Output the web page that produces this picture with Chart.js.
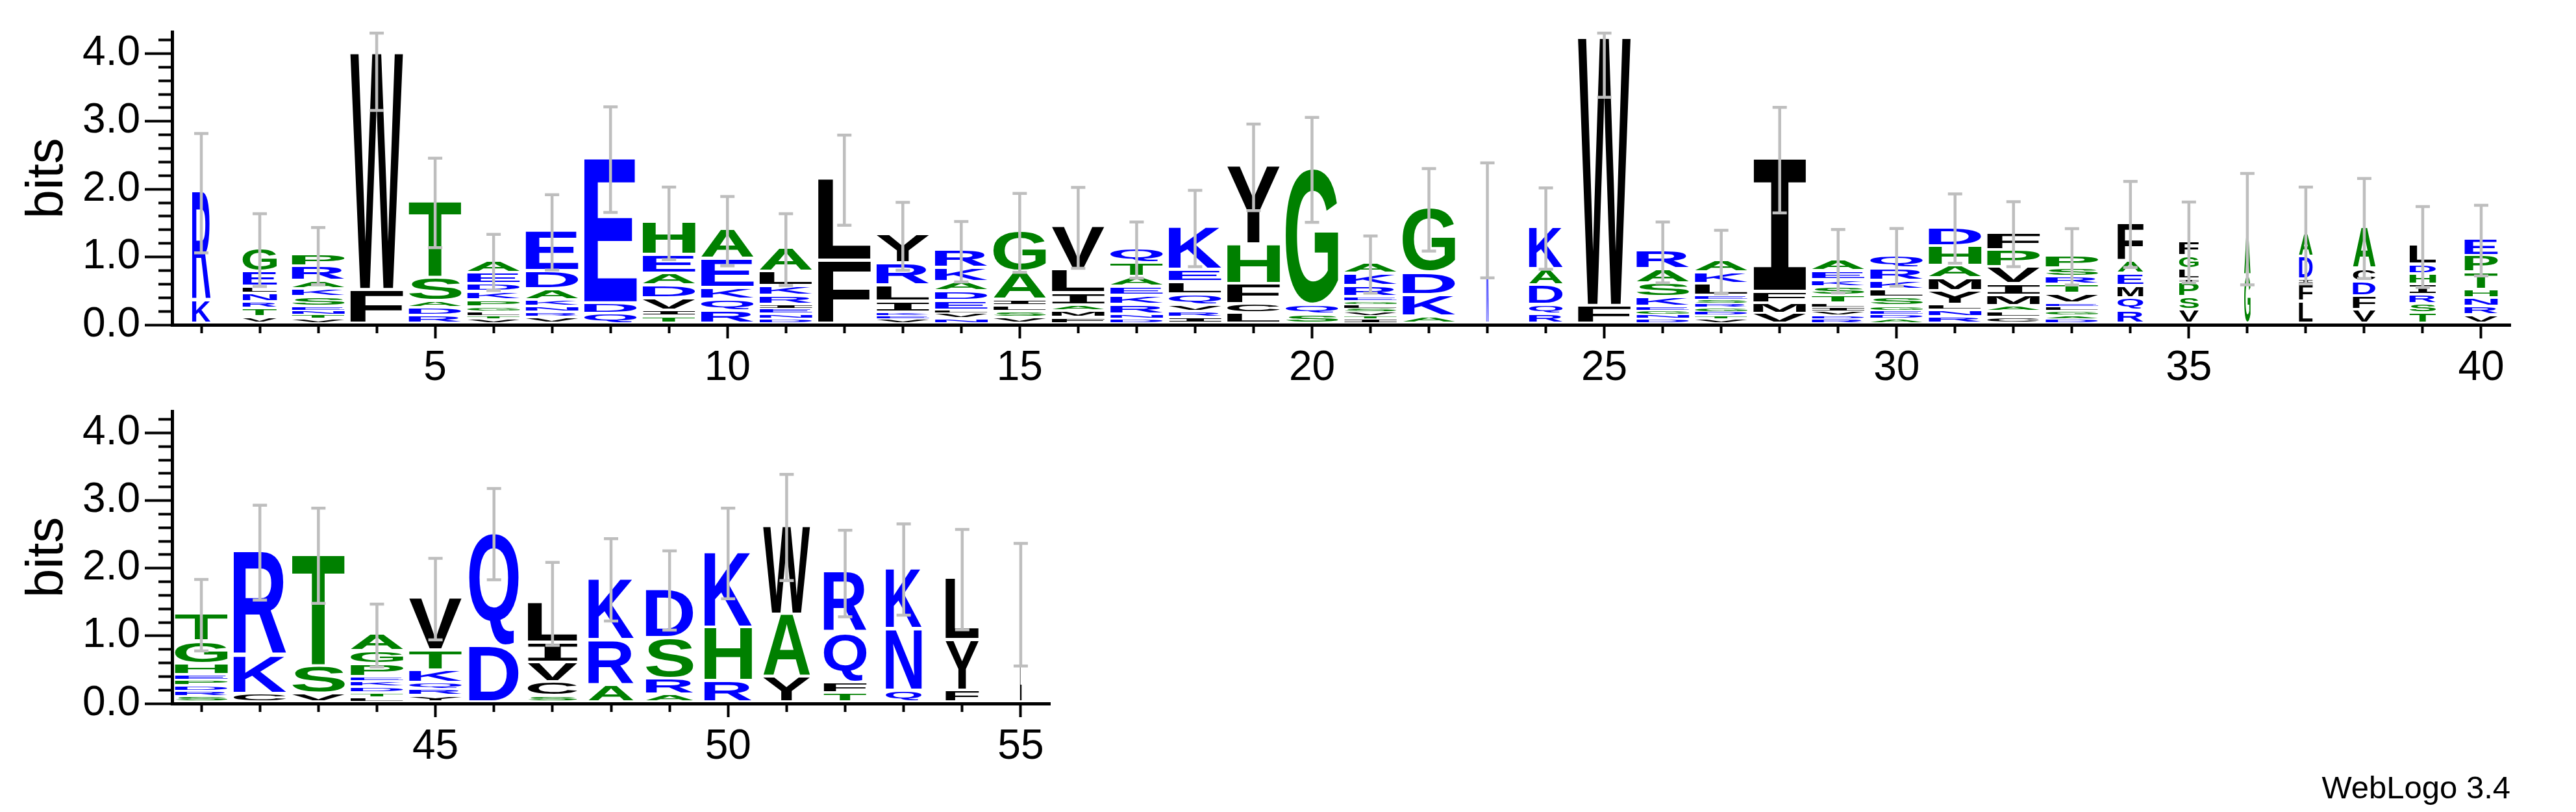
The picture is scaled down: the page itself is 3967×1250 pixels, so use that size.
<!DOCTYPE html>
<html>
<head>
<meta charset="utf-8">
<script src="https://cdn.jsdelivr.net/npm/chart.js@4.4.1/dist/chart.umd.min.js"></script>
<style>
html,body{margin:0;padding:0;background:#fff;}
body{width:3967px;height:1250px;position:relative;overflow:hidden;}
canvas{position:absolute;left:0;}
#c1{top:0;}
#c2{top:583px;}
#credit{position:absolute;right:101px;top:1188px;font-family:"Liberation Sans",Arial,sans-serif;font-size:49px;line-height:49px;color:#000;white-space:nowrap;}
</style>
</head>
<body>
<canvas id="c1" width="3967" height="620"></canvas>
<canvas id="c2" width="3967" height="620"></canvas>
<div id="credit">WebLogo 3.4</div>
<script>
// ---------- DATA (letters listed bottom -> top, heights in bits) ----------
const topPositions = [1,2,3,4,5,6,7,8,9,10,11,12,13,14,15,16,17,18,19,20,21,22,23,24,25,26,27,28,29,30,31,32,33,34,35,36,37,38,39,40];
const topLetters = [
  "KR","VTRNLEG","VTNESKARP","FW","RDAST","VTLGPKDEA","VRNKADE","QDE","TIVDAEH","RQKEA",
  "DNEIRKLA","FL","VEKILRY","NVLEDAKR","VSLIAG","FMAILV","DNRKEATQ","IRVQLEK","LCFHY","SQG",
  "ITVSLGERKA","AKDG","N","RQDAK","FW","DNGEKSAR","VTDGRSELKA","VMFI","RDVILTSKEA","ADEGSLKRQ",
  "RNLYMAHD","CLAMIVPF","DAGLEVTRSP","RQMEAF","VSPILGF","GA","LFIDA","VFDCA","TSRIHDL","VRNHTPE"
];
const topHeights = [
  [0.34,1.61],
  [0.10,0.125,0.10,0.125,0.10,0.22,0.34],
  [0.076,0.057,0.064,0.057,0.144,0.114,0.121,0.212,0.178],
  [0.50,3.50],
  [0.12,0.114,0.106,0.341,1.126],
  [0.076,0.038,0.064,0.068,0.107,0.121,0.114,0.159,0.182],
  [0.095,0.076,0.083,0.099,0.159,0.265,0.595],
  [0.152,0.151,2.142],
  [0.114,0.087,0.178,0.19,0.178,0.277,0.481],
  [0.19,0.17,0.171,0.428,0.432],
  [0.076,0.064,0.087,0.057,0.133,0.14,0.213,0.348],
  [0.936,1.206],
  [0.076,0.049,0.046,0.159,0.239,0.329,0.417],
  [0.076,0.087,0.038,0.14,0.14,0.137,0.205,0.265],
  [0.095,0.083,0.087,0.088,0.417,0.595],
  [0.087,0.103,0.087,0.178,0.352,0.633],
  [0.076,0.064,0.144,0.133,0.133,0.144,0.204,0.213],
  [0.095,0.083,0.099,0.159,0.182,0.178,0.633],
  [0.152,0.14,0.296,0.587,1.156],
  [0.14,0.144,2.009],
  [0.076,0.038,0.057,0.056,0.057,0.046,0.068,0.159,0.182,0.159],
  [0.114,0.314,0.33,0.948],
  [1.55],
  [0.14,0.144,0.285,0.238,0.622],
  [0.265,3.962],
  [0.076,0.064,0.057,0.057,0.141,0.201,0.208,0.273],
  [0.076,0.049,0.053,0.061,0.064,0.057,0.057,0.171,0.17,0.178],
  [0.152,0.151,0.171,1.963],
  [0.076,0.049,0.065,0.056,0.057,0.114,0.125,0.102,0.133,0.171],
  [0.076,0.057,0.057,0.075,0.125,0.114,0.129,0.182,0.19],
  [0.102,0.099,0.083,0.197,0.19,0.19,0.288,0.28],
  [0.095,0.083,0.087,0.152,0.171,0.246,0.254,0.258],
  [0.076,0.049,0.065,0.064,0.049,0.141,0.136,0.114,0.129,0.189],
  [0.19,0.189,0.178,0.182,0.19,0.561],
  [0.208,0.19,0.209,0.049,0.151,0.198,0.219],
  [0.72,0.70],
  [0.33,0.258,0.068,0.337,0.334],
  [0.208,0.198,0.212,0.197,0.614],
  [0.152,0.14,0.136,0.152,0.152,0.14,0.284],
  [0.125,0.129,0.125,0.125,0.254,0.247,0.246]
];
const topWidths = [0.35,0.65,1,1,1,1,1,1,1,1, 1,1,1,1,1,1,1,1,1,1, 1,1,0.04,0.64,1,1,1,1,1,1, 1,1,1,0.49,0.37,0.12,0.26,0.43,0.5,0.63];
const topErrors = [0.89,0.546,0.43,0.84,0.669,0.423,0.565,0.787,0.544,0.521,
                   0.538,0.675,0.51,0.455,0.591,0.606,0.423,0.572,0.648,0.783,
                   0.432,0.618,0.857,0.61,0.872,0.459,0.478,0.788,0.478,0.434,
                   0.521,0.489,0.426,0.644,0.606,0.832,0.724,0.747,0.606,0.531];

const bottomPositions = [41,42,43,44,45,46,47,48,49,50,51,52,53,54,55];
const bottomLetters = ["SRDPEHGT","CKR","VST","LTDKEPGA","YRQKTV","DQ","SCVIL","ARK","ARSD","RHK","YAW","TFQR","QNK","FYL","L"];
const bottomHeights = [
  [0.089,0.078,0.082,0.081,0.079,0.16,0.337,0.409],
  [0.131,0.562,1.546],
  [0.131,0.413,1.649],
  [0.071,0.071,0.089,0.089,0.06,0.189,0.188,0.256],
  [0.096,0.099,0.1,0.185,0.291,0.782],
  [0.835,1.677],
  [0.096,0.206,0.291,0.295,0.594],
  [0.259,0.665,0.913],
  [0.117,0.238,0.604,0.722],
  [0.32,0.792,1.116],
  [0.373,0.931,1.308],
  [0.142,0.153,0.736,0.899],
  [0.178,0.913,0.899],
  [0.178,0.746,0.917],
  [1.47]
];
const bottomWidths = [1,1,1,1,1,0.94,0.94,0.86,0.9,0.9,0.89,0.81,0.68,0.63,0.03];
const bottomErrors = [0.537,0.711,0.713,0.474,0.613,0.684,0.622,0.618,0.595,0.679,0.794,0.649,0.684,0.752,0.915];

const yTickLabels = ["0.0","1.0","2.0","3.0","4.0"];
const yMaxBits = 4.32;

// ---------- STYLE ----------
const FONT = '"Liberation Sans", Arial, Helvetica, sans-serif';
const BLUE = '#0000ff', GREEN = '#008000', BLACK = '#000000';
function colorOf(ch) {
  if ('RKDENQ'.includes(ch)) return BLUE;
  if ('SGHTAP'.includes(ch)) return GREEN;
  return BLACK;
}
function glyphFont(ch) {
  return ch === 'I' ? 'bold 200px "DejaVu Sans Mono"' : 'bold 200px "Liberation Sans"';
}
const metricCache = {};
function drawGlyph(ctx, ch, x0, y0, w, h) {
  if (w <= 0 || h <= 0) return;
  ctx.save();
  ctx.font = glyphFont(ch);
  ctx.textAlign = 'left';
  ctx.textBaseline = 'alphabetic';
  let m = metricCache[ch];
  if (!m) {
    const t = ctx.measureText(ch);
    m = metricCache[ch] = {l: t.actualBoundingBoxLeft, r: t.actualBoundingBoxRight, a: t.actualBoundingBoxAscent, d: t.actualBoundingBoxDescent};
  }
  const iw = m.l + m.r, ih = m.a + m.d;
  ctx.translate(x0, y0);
  ctx.scale(w / iw, h / ih);
  ctx.fillStyle = colorOf(ch);
  ctx.fillText(ch, m.l, m.a);
  ctx.restore();
}

function logoPlugin(letters, widths, errors) {
  return {
    id: 'logo',
    afterDatasetsDraw(chart) {
      const ctx = chart.ctx;
      const xs = chart.scales.x, ys = chart.scales.y;
      chart.data.datasets.forEach((ds, r) => {
        const meta = chart.getDatasetMeta(r);
        meta.data.forEach((el, i) => {
          const ch = letters[i][r];
          if (!ch) return;
          const p = el.getProps(['x', 'y', 'base', 'width'], true);
          const slot = p.base - p.y;
          if (slot <= 0) return;
          const gap = Math.min(4.5, slot * 0.45);
          const w = p.width * widths[i];
          drawGlyph(ctx, ch, p.x - w / 2, p.y, w, slot - gap);
        });
      });
      ctx.save();
      ctx.strokeStyle = '#bebebe';
      ctx.lineWidth = 4.5;
      ctx.lineCap = 'butt';
      letters.forEach((s, i) => {
        let total = 0;
        chart.data.datasets.forEach(ds => { total += ds.data[i]; });
        const x = xs.getPixelForValue(i);
        const yTop = ys.getPixelForValue(Math.min(total + errors[i], yMaxBits));
        const yBot = ys.getPixelForValue(Math.max(total - errors[i], 0));
        ctx.beginPath();
        ctx.moveTo(x, yTop); ctx.lineTo(x, yBot);
        ctx.moveTo(x - 11, yTop + 2); ctx.lineTo(x + 11, yTop + 2);
        ctx.moveTo(x - 11, yBot); ctx.lineTo(x + 11, yBot);
        ctx.stroke();
      });
      ctx.restore();
    }
  };
}

function isInt(v) { return Math.abs(v - Math.round(v)) < 1e-6; }

function makeLogo(canvasId, positions, letters, heights, widths, errors, pad) {
  const maxLen = Math.max(...letters.map(s => s.length));
  const datasets = [];
  for (let r = 0; r < maxLen; r++) {
    datasets.push({
      data: heights.map(h => (h[r] !== undefined ? h[r] : 0)),
      backgroundColor: 'rgba(0,0,0,0)',
      borderWidth: 0,
      barPercentage: 0.9,
      categoryPercentage: 1.0
    });
  }
  return new Chart(document.getElementById(canvasId), {
    type: 'bar',
    data: { labels: positions.map(String), datasets },
    options: {
      responsive: false,
      animation: false,
      events: [],
      devicePixelRatio: 1,
      layout: { padding: pad },
      plugins: { legend: { display: false }, tooltip: { enabled: false }, title: { display: false } },
      scales: {
        x: {
          stacked: true,
          offset: true,
          grid: {
            offset: false, drawOnChartArea: false, drawTicks: true,
            tickLength: 21, tickWidth: 4, tickColor: '#000',
            tickBorderDash: c => (positions[c.index] % 5 === 0) ? [] : [10, 1000]
          },
          border: { display: true, color: '#000', width: 5 },
          ticks: {
            autoSkip: false, maxRotation: 0, minRotation: 0, padding: 8, color: '#000',
            font: { family: FONT, size: 64 },
            callback: function (v) { const l = Number(this.getLabelForValue(v)); return l % 5 === 0 ? String(l) : ''; }
          },
          afterFit: s => { s.height = 120; }
        },
        y: {
          stacked: true,
          min: 0,
          max: yMaxBits,
          grid: {
            drawOnChartArea: false, drawTicks: true,
            tickLength: 42, tickWidth: 4, tickColor: '#000',
            tickBorderDash: c => (c.tick && isInt(c.tick.value)) ? [] : [0, 21, 200]
          },
          border: { display: true, color: '#000', width: 5 },
          ticks: {
            stepSize: 0.2, includeBounds: false, autoSkip: false, padding: 7, color: '#000',
            font: { family: FONT, size: 64 },
            callback: v => isInt(v) ? yTickLabels[Math.round(v)] : ''
          },
          title: { display: true, text: 'bits', color: '#000', font: { family: FONT, size: 80 }, padding: { top: 26, bottom: 0 } },
          afterFit: s => { s.width = 265; }
        }
      }
    },
    plugins: [logoPlugin(letters, widths, errors)]
  });
}

makeLogo('c1', topPositions, topLetters, topHeights, topWidths, topErrors, { left: 0, top: 49, right: 101, bottom: 0 });
makeLogo('c2', bottomPositions, bottomLetters, bottomHeights, bottomWidths, bottomErrors, { left: 0, top: 50, right: 2350, bottom: 0 });
</script>
</body>
</html>
